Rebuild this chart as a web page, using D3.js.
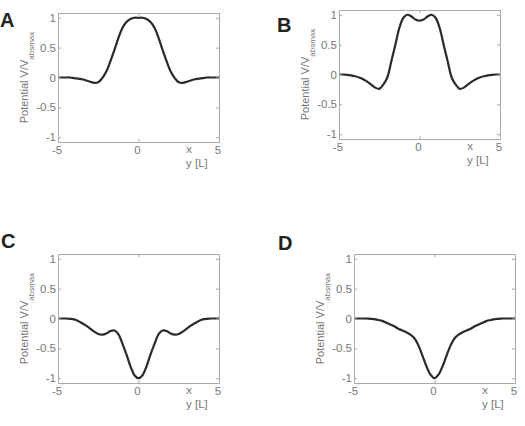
<!DOCTYPE html>
<html>
<head>
<meta charset="utf-8">
<script src="https://cdn.jsdelivr.net/npm/d3@7"></script>
<style>
  body { margin: 0; background: #fff; }
  svg { display: block; font-family: "Liberation Sans", Arial, sans-serif; }
  .tick-label { fill: #777; font-size: 11.5px; }
  .axislabel { fill: #777; }
  .panellabel { fill: #222; font-size: 20px; font-weight: bold; }
</style>
</head>
<body>
<div id="chart"></div>
<script>
// sample positions along y [L]
const xs = [-5, -4.75, -4.5, -4.25, -4, -3.75, -3.5, -3.25, -3, -2.75, -2.5, -2.25, -2, -1.75, -1.5, -1.25, -1, -0.75, -0.5, -0.25,
  0, 0.25, 0.5, 0.75, 1, 1.25, 1.5, 1.75, 2, 2.25, 2.5, 2.75, 3, 3.25, 3.5, 3.75, 4, 4.25, 4.5, 4.75, 5];

const seriesA = [0, 0, 0, 0, -0.01, -0.02, -0.03, -0.05, -0.07, -0.09, -0.08, -0.01, 0.1, 0.27, 0.46, 0.66, 0.83, 0.93, 0.98, 1.0,
  1.0, 1.0, 0.98, 0.93, 0.83, 0.66, 0.46, 0.27, 0.1, -0.01, -0.08, -0.09, -0.07, -0.05, -0.03, -0.02, -0.01, 0, 0, 0, 0];

const seriesB = [0, 0, -0.005, -0.015, -0.03, -0.05, -0.08, -0.12, -0.17, -0.22, -0.24, -0.17, -0.05, 0.22, 0.5, 0.78, 0.95, 1.0, 0.97, 0.92,
  0.9, 0.92, 0.97, 1.0, 0.95, 0.78, 0.5, 0.22, -0.05, -0.17, -0.24, -0.22, -0.17, -0.12, -0.08, -0.05, -0.03, -0.015, -0.005, 0, 0];

const seriesC = [0, 0, 0, -0.005, -0.015, -0.04, -0.08, -0.12, -0.17, -0.22, -0.26, -0.27, -0.25, -0.21, -0.2, -0.26, -0.42, -0.6, -0.8, -0.95,
  -1.0, -0.95, -0.8, -0.6, -0.42, -0.26, -0.2, -0.21, -0.25, -0.27, -0.26, -0.22, -0.17, -0.12, -0.08, -0.04, -0.015, -0.005, 0, 0, 0];

const seriesD = [0, 0, 0, 0, -0.005, -0.01, -0.025, -0.04, -0.07, -0.1, -0.13, -0.17, -0.2, -0.23, -0.27, -0.33, -0.45, -0.62, -0.8, -0.94,
  -1.0, -0.94, -0.8, -0.62, -0.45, -0.33, -0.27, -0.23, -0.2, -0.17, -0.13, -0.1, -0.07, -0.04, -0.025, -0.01, -0.005, 0, 0, 0, 0];

const panelLabels = ['A', 'B', 'C', 'D'];
const xTicks = [-5, 0, 5];
const yTicks = [-1, -0.5, 0, 0.5, 1];

const W = 525, H = 426;
const pw = 161, ph = 129;
// top-left corner of each plot box, and where the panel letter goes
const panels = [
  {label: panelLabels[0], data: seriesA, left: 58,  top: 13,  lx: 0,   ly: 27},
  {label: panelLabels[1], data: seriesB, left: 339, top: 10,  lx: 277, ly: 32},
  {label: panelLabels[2], data: seriesC, left: 58,  top: 254, lx: 1,   ly: 248},
  {label: panelLabels[3], data: seriesD, left: 354, top: 254, lx: 278, ly: 250}
];

const svg = d3.select('#chart').append('svg')
  .attr('width', W).attr('height', H);

svg.append('rect').attr('width', W).attr('height', H).attr('fill', '#fff');

panels.forEach(p => {
  let x = d3.scaleLinear().domain([-5, 5]).range([0, pw]);
  let y = d3.scaleLinear().domain([-1.08, 1.08]).range([ph, 0]);

  let g = svg.append('g').attr('transform', `translate(${p.left},${p.top})`);

  // curve
  let line = d3.line()
    .x((d, i) => x(xs[i]))
    .y(d => y(d))
    .curve(d3.curveCatmullRom);

  g.append('path')
    .datum(p.data)
    .attr('fill', 'none')
    .attr('stroke', '#2a2a2a')
    .attr('stroke-width', 2.2)
    .attr('d', line);

  // matlab-ish box with inward ticks
  g.append('g').attr('transform', `translate(0,${ph})`)
    .call(d3.axisBottom(x).tickValues(xTicks).tickSizeInner(-3).tickSizeOuter(0).tickFormat(''));
  g.append('g')
    .call(d3.axisTop(x).tickValues(xTicks).tickSizeInner(-3).tickSizeOuter(0).tickFormat(''));
  g.append('g')
    .call(d3.axisLeft(y).tickValues(yTicks).tickSizeInner(-3).tickSizeOuter(0).tickFormat(''));
  g.append('g').attr('transform', `translate(${pw},0)`)
    .call(d3.axisRight(y).tickValues(yTicks).tickSizeInner(-3).tickSizeOuter(0).tickFormat(''));
  g.selectAll('.domain, .tick line').attr('stroke', '#aaa').attr('stroke-width', 1);

  // tick labels
  g.selectAll('text.xt').data(xTicks).enter().append('text')
    .attr('class', 'tick-label')
    .attr('text-anchor', 'middle')
    .attr('x', d => x(d) - 1)
    .attr('y', ph + 12)
    .text(d => d);

  g.selectAll('text.yt').data(yTicks).enter().append('text')
    .attr('class', 'tick-label')
    .attr('text-anchor', 'end')
    .attr('x', -2)
    .attr('y', d => y(d) + 4)
    .text(d => d);

  // axis labels
  g.append('text')
    .attr('class', 'tick-label')
    .attr('text-anchor', 'middle')
    .attr('x', pw - 30)
    .attr('y', ph + 11)
    .text('x');

  g.append('text')
    .attr('class', 'tick-label')
    .attr('x', pw - 33)
    .attr('y', ph + 25)
    .text('y [L]');

  let yl = g.append('text')
    .attr('class', 'axislabel')
    .attr('text-anchor', 'middle')
    .attr('transform', `translate(-30,${ph / 2}) rotate(-90)`);
  yl.append('tspan').attr('font-size', '11px').text('Potential V/V');
  yl.append('tspan').attr('font-size', '8px').attr('dy', 6).text('absmax');

  svg.append('text')
    .attr('class', 'panellabel')
    .attr('x', p.lx)
    .attr('y', p.ly)
    .text(p.label);
});
</script>
</body>
</html>
